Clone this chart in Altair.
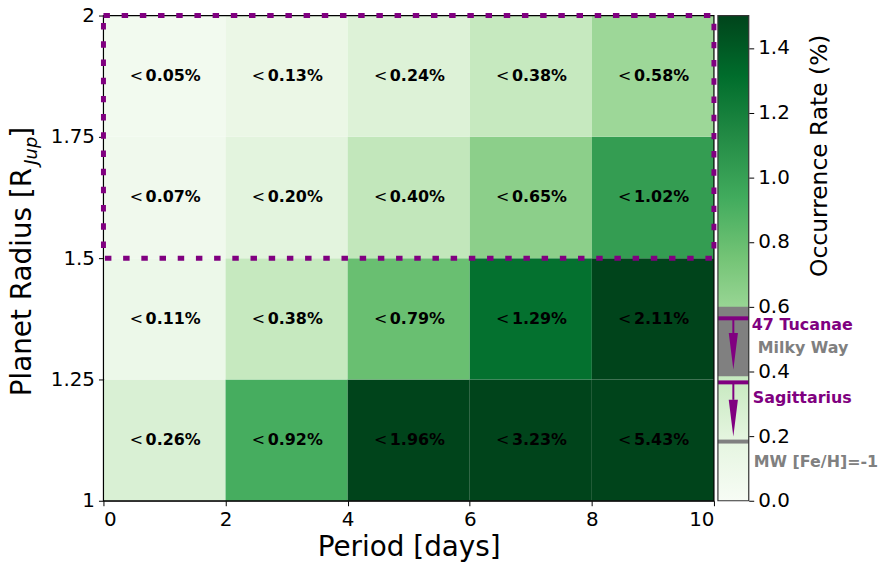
import altair as alt
import pandas as pd

# ---------------- data ----------------
period_edges = [0, 2, 4, 6, 8, 10]
radius_edges = [1.0, 1.25, 1.5, 1.75, 2.0]
# rows from bottom (1-1.25 R_Jup) to top (1.75-2 R_Jup)
rates = [
    [0.26, 0.92, 1.96, 3.23, 5.43],
    [0.11, 0.38, 0.79, 1.29, 2.11],
    [0.07, 0.20, 0.40, 0.65, 1.02],
    [0.05, 0.13, 0.24, 0.38, 0.58],
]
x_ticks = [0, 2, 4, 6, 8, 10]
y_ticks = [1.0, 1.25, 1.5, 1.75, 2.0]

greens = ["#f7fcf5", "#e5f5e0", "#c7e9c0", "#a1d99b", "#74c476",
          "#41ab5d", "#238b45", "#006d2c", "#00441b"]
cbar_max = 1.5
cbar_ticks = [0.0, 0.2, 0.4, 0.6, 0.8, 1.0, 1.2, 1.4]

# highlighted (upper-limit) region
box = {"p0": [0], "p1": [10], "r0": [1.5], "r1": [2.0]}

# colorbar annotations
mw_band = [0.385, 0.60]
mw_metal_poor = 0.183
limit_names = ["47 Tucanae", "Sagittarius"]
limit_values = [0.564, 0.366]
limit_tips = [0.405, 0.199]
label_texts = ["47 Tucanae", "Milky Way", "Sagittarius", "MW [Fe/H]=-1"]
label_values = [0.543, 0.472, 0.319, 0.12]
label_colors = ["#800080", "#808080", "#800080", "#808080"]
label_dx = [34, 40, 35, 36]

FONT = "DejaVu Sans"
PURPLE = "#800080"
GRAY = "#808080"
W, H = 614, 488
CB_W = 31

# ---------------- tables ----------------
rows = []
for i, row in enumerate(rates):
    for j, v in enumerate(row):
        rows.append({
            "p0": period_edges[j], "p1": period_edges[j + 1],
            "r0": radius_edges[i], "r1": radius_edges[i + 1],
            "pc": (period_edges[j] + period_edges[j + 1]) / 2,
            "rc": (radius_edges[i] + radius_edges[i + 1]) / 2,
            "rate": v, "txt": f"{v:.2f}%",
        })
cells = pd.DataFrame(rows)

color_scale = alt.Scale(domain=[k * cbar_max / 8 for k in range(9)], range=greens,
                        interpolate="rgb", clamp=True)
xs = alt.Scale(domain=[0, 10], nice=False, zero=False)
ys = alt.Scale(domain=[1, 2], nice=False, zero=False)

base = alt.Chart(cells)
heat = base.mark_rect(stroke=None).encode(
    x=alt.X("p0:Q", scale=xs, axis=alt.Axis(values=x_ticks, format="d", title="Period [days]",
                                              titleFontSize=28, titleFont=FONT, titleFontWeight="normal",
                                              titlePadding=4, labelPadding=4)),
    x2="p1:Q",
    y=alt.Y("r0:Q", scale=ys, axis=alt.Axis(values=y_ticks, labelExpr="format(datum.value, '~g')",
                                              title=None, labelPadding=4)),
    y2="r1:Q",
    color=alt.Color("rate:Q", scale=color_scale, legend=None),
)
lt = base.mark_text(font=FONT, fontSize=16, align="left", baseline="alphabetic",
                    dx=-35, dy=5, color="black", text="<").encode(
    x="pc:Q", y="rc:Q")
num = base.mark_text(font=FONT, fontSize=16, fontWeight="bold", align="left",
                     baseline="alphabetic", dx=-19, dy=5, color="black").encode(
    x="pc:Q", y="rc:Q", text="txt:N")

frame_df = pd.DataFrame({"p0": [0], "p1": [10], "r0": [1.0], "r1": [2.0]})
frame = alt.Chart(frame_df).mark_rect(fillOpacity=0, stroke="black", strokeWidth=1.2).encode(
    x="p0:Q", x2="p1:Q", y="r0:Q", y2="r1:Q")
dashed = alt.Chart(pd.DataFrame(box)).mark_rect(
    fillOpacity=0, stroke=PURPLE, strokeWidth=5, strokeDash=[6.5, 11.8]).encode(
    x="p0:Q", x2="p1:Q", y="r0:Q", y2="r1:Q")

one = pd.DataFrame({"a": [0]})
yt1 = alt.Chart(one).mark_text(text="Planet Radius [R", angle=270, align="left",
                               baseline="alphabetic", font=FONT, fontSize=28, color="black").encode(
    x=alt.value(-73), y=alt.value(383))
yt2 = alt.Chart(one).mark_text(text="Jup", angle=270, align="left", fontStyle="italic",
                               baseline="alphabetic", font=FONT, fontSize=18, color="black").encode(
    x=alt.value(-67), y=alt.value(150))
yt3 = alt.Chart(one).mark_text(text="]", angle=270, align="left",
                               baseline="alphabetic", font=FONT, fontSize=28, color="black").encode(
    x=alt.value(-73), y=alt.value(123))

main = alt.layer(heat, lt, num, frame, dashed, yt1, yt2, yt3).properties(width=W, height=H)

# ---------------- colorbar ----------------
cys = alt.Scale(domain=[0, cbar_max], nice=False, zero=False)
grad = alt.Gradient(gradient="linear",
                    stops=[alt.GradientStop(offset=k / 8, color=c) for k, c in enumerate(greens)],
                    x1=0, x2=0, y1=1, y2=0)
cb_df = pd.DataFrame({"lo": [0.0], "hi": [cbar_max]})
cb_rect = alt.Chart(cb_df).mark_rect(color=grad).encode(
    y=alt.Y("lo:Q", scale=cys, axis=alt.Axis(orient="right", values=cbar_ticks, format=".1f",
                                              title=None, domain=False, labelPadding=4)),
    y2="hi:Q", x=alt.value(0), x2=alt.value(CB_W))
band = alt.Chart(pd.DataFrame({"lo": [mw_band[0]], "hi": [mw_band[1]]})).mark_rect(color=GRAY).encode(
    y="lo:Q", y2="hi:Q", x=alt.value(0), x2=alt.value(CB_W))
mwline = alt.Chart(pd.DataFrame({"v": [mw_metal_poor]})).mark_rule(color=GRAY, strokeWidth=4).encode(
    y="v:Q", x=alt.value(0), x2=alt.value(CB_W))
lim_df = pd.DataFrame({"name": limit_names, "v": limit_values, "tip": limit_tips})
lim_df["head_top"] = lim_df["tip"] + 0.113
lim_df["head_c"] = lim_df["tip"] + 0.0567
limline = alt.Chart(lim_df).mark_rule(color=PURPLE, strokeWidth=4).encode(
    y="v:Q", x=alt.value(0), x2=alt.value(CB_W))
shaft = alt.Chart(lim_df).mark_rule(color=PURPLE, strokeWidth=2).encode(
    y="v:Q", y2="head_top:Q", x=alt.value(CB_W / 2))
head = alt.Chart(lim_df).mark_point(shape="M-0.25,-1L0.25,-1L0,1Z", size=1369, filled=True,
                                    color=PURPLE, opacity=1, strokeWidth=0).encode(
    y="head_c:Q", x=alt.value(CB_W / 2))
cb_frame = alt.Chart(cb_df).mark_rect(fillOpacity=0, stroke="#333333", strokeWidth=1.2).encode(
    y="lo:Q", y2="hi:Q", x=alt.value(0), x2=alt.value(CB_W))
lab_df = pd.DataFrame({"t": label_texts, "v": label_values, "c": label_colors, "dx": label_dx})
labels = alt.Chart(lab_df).mark_text(font=FONT, fontSize=16, fontWeight="bold", align="left",
                                     baseline="middle").encode(
    y="v:Q", x=alt.X("dx:Q", scale=None, axis=None), text="t:N",
    color=alt.Color("c:N", scale=None))
cb_title = alt.Chart(one).mark_text(text="Occurrence Rate (%)", angle=270, align="center",
                                    baseline="alphabetic", font=FONT, fontSize=23.5, color="black").encode(
    x=alt.value(110), y=alt.value(141))

cbar = alt.layer(cb_rect, band, mwline, limline, shaft, head, cb_frame, labels, cb_title).properties(
    width=CB_W, height=H)

chart = alt.hconcat(main, cbar, spacing=4, bounds="flush").resolve_scale(
    color="independent", x="independent", y="independent"
).properties(
    padding={"left": 0, "top": -4, "right": 0, "bottom": 0}
).configure_view(stroke=None).configure_axis(
    grid=False, labelFont=FONT, labelFontSize=20, labelColor="black", tickColor="black",
    domainColor="black", tickSize=5, titleColor="black", titleFont=FONT,
)

chart.save("out.html", embed_options={"renderer": "svg", "actions": False})
